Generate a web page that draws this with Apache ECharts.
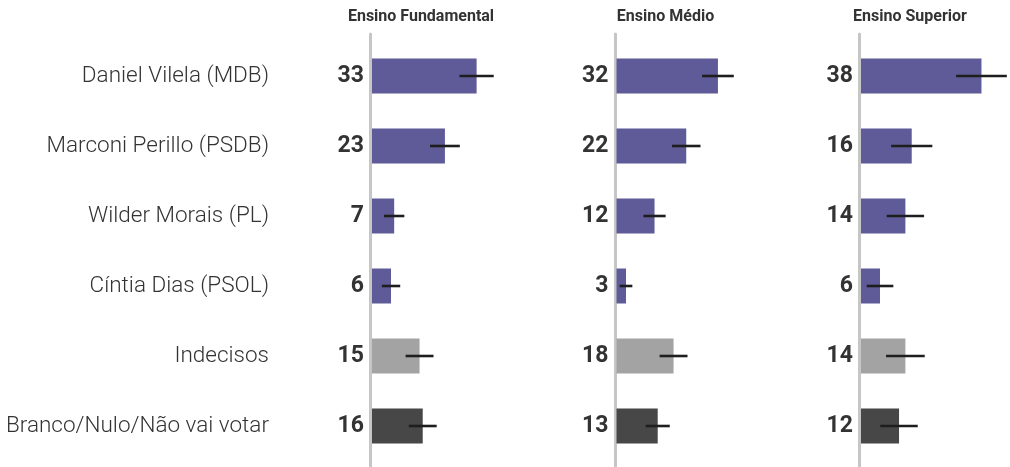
<!DOCTYPE html>
<html>
<head>
<meta charset="utf-8">
<script src="https://cdn.jsdelivr.net/npm/echarts@6/dist/echarts.min.js"></script>
<style>html,body{margin:0;padding:0;background:#fff}#c{width:1010px;height:467px}</style>
</head>
<body>
<div id="c"></div>
<script>
const categories = ['Daniel Vilela (MDB)', 'Marconi Perillo (PSDB)', 'Wilder Morais (PL)', 'Cíntia Dias (PSOL)', 'Indecisos', 'Branco/Nulo/Não vai votar'];
const panelTitles = ['Ensino Fundamental', 'Ensino Médio', 'Ensino Superior'];
const fundamental = [33, 23, 7, 6, 15, 16];
const medio = [32, 22, 12, 3, 18, 13];
const superior = [38, 16, 14, 6, 14, 12];
const fundamentalErr = [5.4, 4.7, 3.2, 2.9, 4.4, 4.4];
const medioErr = [5.0, 4.5, 3.5, 2.0, 4.4, 3.8];
const superiorErr = [8.0, 6.5, 5.9, 4.2, 6.1, 5.9];

const panelValues = [fundamental, medio, superior];
const panelErrors = [fundamentalErr, medioErr, superiorErr];

const barColors = ['#5f5b99', '#5f5b99', '#5f5b99', '#5f5b99', '#a3a3a3', '#474747'];
const lefts = [372, 616.5, 861];
const font = 'Roboto, "Noto Sans", sans-serif';

const grids = [], xAxes = [], yAxes = [], series = [], titles = [];
lefts.forEach((left, p) => {
  grids.push({ left: left, width: 149, top: 41, bottom: 6 });
  xAxes.push({ type: 'value', gridIndex: grids.length - 1, min: 0, max: 47, show: false });
  yAxes.push({
    type: 'category', gridIndex: grids.length - 1, data: categories, inverse: true,
    axisLine: { show: false }, axisTick: { show: false }, splitLine: { show: false },
    axisLabel: p === 0 ? { show: true, margin: 103, fontSize: 22.5, fontWeight: 300, color: '#333', fontFamily: font } : { show: false }
  });
  const gi = grids.length - 1;
  series.push({
    type: 'bar', xAxisIndex: gi, yAxisIndex: gi, barWidth: '50%',
    data: panelValues[p].map((v, i) => ({ value: v, itemStyle: { color: barColors[i] } })),
    label: { show: true, position: 'left', distance: 8, formatter: '{c}', fontSize: 23, fontWeight: 'bold', color: '#333', fontFamily: font },
    silent: true, animation: false
  });
  const vals = panelValues[p], errs = panelErrors[p];
  series.push({
    type: 'custom', xAxisIndex: gi, yAxisIndex: gi,
    data: vals.map((v, i) => [i, v, errs[i]]),
    renderItem: function (params, api) {
      const idx = api.value(0), v = api.value(1), e = api.value(2);
      const a = api.coord([v - e, idx]);
      const b = api.coord([v + e, idx]);
      return { type: 'line', shape: { x1: a[0], y1: a[1], x2: b[0], y2: b[1] }, style: { stroke: '#1e1e1e', lineWidth: 2.6 } };
    },
    silent: true, animation: false, z: 5
  });
  grids.push({ left: left - 1.5, width: 10, top: 34, bottom: 0 });
  const li = grids.length - 1;
  xAxes.push({ type: 'value', gridIndex: li, show: false, min: 0, max: 1 });
  yAxes.push({ type: 'value', gridIndex: li, min: 0, max: 1, axisLine: { show: true, lineStyle: { color: '#c6c6c6', width: 3 } }, axisTick: { show: false }, axisLabel: { show: false }, splitLine: { show: false } });
  titles.push({ text: panelTitles[p], left: left + 44, top: 4, textAlign: 'center', textStyle: { fontSize: 16, fontWeight: 'bold', color: '#333', fontFamily: font } });
});

const chart = echarts.init(document.getElementById('c'), null, { renderer: 'canvas' });
chart.setOption({ animation: false, title: titles, grid: grids, xAxis: xAxes, yAxis: yAxes, series: series });
</script>
</body>
</html>
